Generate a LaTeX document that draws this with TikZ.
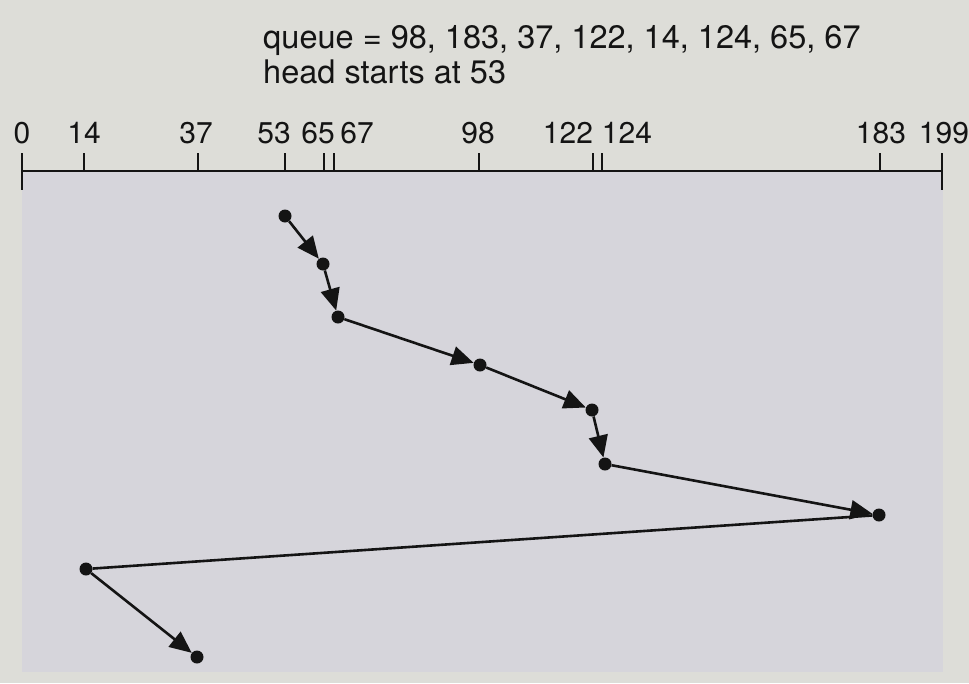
\documentclass[tikz,border=0pt]{standalone}
\usepackage{fontspec}
\setmainfont{TeX Gyre Heros}
\usetikzlibrary{arrows.meta}
\definecolor{outerbg}{RGB}{221,221,216}
\definecolor{panelbg}{RGB}{214,213,219}
\definecolor{ink}{RGB}{20,20,20}
\begin{document}
\begin{tikzpicture}[x=1pt,y=-1pt,
  dot/.style={circle,fill=ink,inner sep=0pt,minimum size=13pt},
  arr/.style={line width=2.6pt,draw=ink,-{Triangle[length=22pt,width=19pt]}},
  plain/.style={line width=2.6pt,draw=ink},
  lbl/.style={anchor=base,inner sep=0pt,font=\fontsize{30}{36}\selectfont,text=ink},
  title/.style={anchor=base west,inner sep=0pt,font=\fontsize{32.5}{38}\selectfont,text=ink},
  tick/.style={line width=2pt,draw=ink}]
\useasboundingbox (0,0) rectangle (969,683);
\fill[outerbg] (0,0) rectangle (969,683);
\fill[panelbg] (22,171) rectangle (943,672);
% title
\node[title] (t1) at (263,48) {queue = 98, 183, 37, 122, 14, 124, 65, 67};
\node[title] (t2) at (263,83) {head starts at 53};
% axis
\draw[line width=2.6pt,draw=ink] (22,171) -- (942,171);
\draw[tick] (22,153) -- (22,190);
\draw[tick] (942,153) -- (942,190);
\foreach \x in {84,198,285,324,334,479,593,602,880}{\draw[tick] (\x,153) -- (\x,171);}
\node[lbl] (l0) at (22,143) {0};
\node[lbl] (l14) at (84,143) {14};
\node[lbl] (l37) at (196,143) {37};
\node[lbl] (l53) at (274,143) {53};
\node[lbl] (l65) at (318,143) {65};
\node[lbl] (l67) at (357,143) {67};
\node[lbl] (l98) at (478,143) {98};
\node[lbl] (l122) at (568,143) {122};
\node[lbl] (l124) at (627,143) {124};
\node[lbl] (l183) at (881,143) {183};
\node[lbl] (l199) at (944,143) {199};
% head path
\node[dot] (p53) at (285,216) {};
\node[dot] (p65) at (323,264) {};
\node[dot] (p67) at (338,317) {};
\node[dot] (p98) at (480,365) {};
\node[dot] (p122) at (592,410) {};
\node[dot] (p124) at (605,464) {};
\node[dot] (p183) at (879,515) {};
\node[dot] (p14) at (86,569) {};
\node[dot] (p37) at (197,657) {};
\draw[arr] (p53) -- (p65);
\draw[arr] (p65) -- (p67);
\draw[arr] (p67) -- (p98);
\draw[arr] (p98) -- (p122);
\draw[arr] (p122) -- (p124);
\draw[arr] (p124) -- (p183);
\draw[plain] (p183) -- (p14);
\draw[arr] (p14) -- (p37);
\end{tikzpicture}
\end{document}
